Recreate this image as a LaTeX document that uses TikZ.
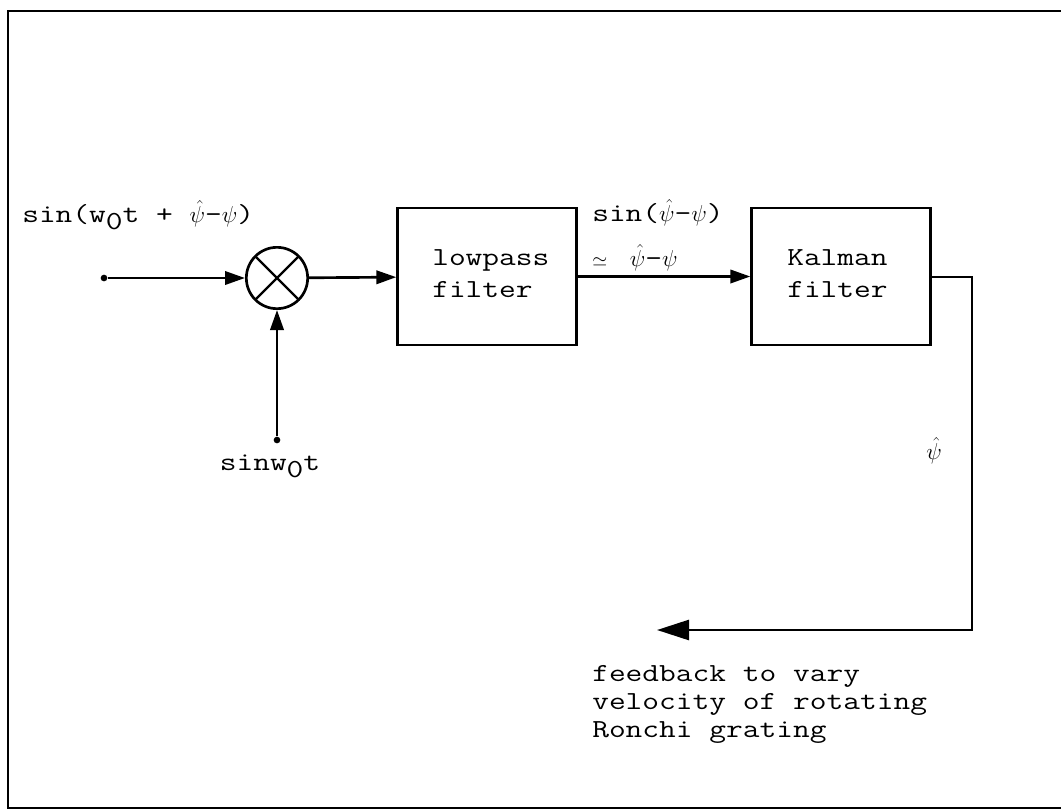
\documentclass[tikz,border=0pt]{standalone}
\usepackage{fontspec}
\newfontfamily\typew{Latin Modern Mono}[FakeStretch=1.25]
\newcommand{\mth}[1]{{\fontsize{16}{16}\selectfont$#1$}}
\usetikzlibrary{arrows.meta}
\begin{document}
\begin{tikzpicture}[x=0.75pt,y=-0.75pt,
  font=\typew\fontsize{19.5}{23.5}\selectfont,
  wire/.style={line width=2pt},
  frame/.style={line width=2.2pt},
  tip/.style={-{Triangle[length=15pt,width=10pt]}},
  bigtip/.style={-{Triangle[length=24pt,width=15pt]}},
  blockbox/.style={draw,line width=2pt,minimum width=134pt,minimum height=102.75pt,inner sep=0pt},
  mixer/.style={draw,circle,line width=2pt,minimum size=46pt,inner sep=0pt,
    path picture={\draw[line width=1.6pt] (path picture bounding box.north west) -- (path picture bounding box.south east)
      (path picture bounding box.north east) -- (path picture bounding box.south west);}},
  lbl/.style={inner sep=0pt,anchor=west},
  dot/.style={circle,fill,inner sep=0pt,minimum size=5pt}]
\useasboundingbox (0,0) rectangle (1061,811);
% frame (open at right)
\draw[frame] (1061,11) -- (8,11) -- (8,808) -- (1061,808);

\node[dot] (in) at (104,278) {};
\node[mixer] (mx) at (277,278) {};
\node[dot] (ref) at (277,440) {};
\node[blockbox] (lp) at (487,276.5) {};
\node[blockbox] (kf) at (841,276.5) {};
\coordinate (c1) at (972,277);
\coordinate (c2) at (972,630);
\coordinate (fb) at (657,630);

\draw[wire,tip] (in) -- (mx);
\draw[wire,tip] (ref) -- (mx);
\draw[wire,tip] (mx) -- (lp);
\draw[wire,tip] (lp) -- (kf);
\draw[wire,bigtip] (kf.east |- c1) -- (c1) -- (c2) -- (fb);

\node[lbl,align=left,font=\typew\fontsize{19.5}{24}\selectfont] (lpt) at (432,274) {lowpass\\filter};
\node[lbl,align=left,font=\typew\fontsize{19.5}{24}\selectfont] (kft) at (787,274) {Kalman\\filter};

\node[lbl] (inlbl) at (22,215) {sin(w\raisebox{-0.6ex}{0}t + \mth{\hat{\psi}}-\mth{\psi})};
\node[anchor=north] (reflbl) at (270,450) {sinw\raisebox{-0.6ex}{0}t};
\node[lbl] (e1) at (592,213) {sin(\mth{\hat{\psi}}-\mth{\psi})};
\node[lbl] (e2) at (592,258) {{\fontsize{14}{14}\selectfont$\simeq$}\hspace{17pt}\mth{\hat{\psi}}-\mth{\psi}};
\node (psih) at (934,451) {\mth{\hat{\psi}}};
\node[lbl,align=left,font=\typew\fontsize{19.5}{21}\selectfont] (fbt) at (592,704) {feedback to vary\\velocity of rotating\\Ronchi grating};
\end{tikzpicture}
\end{document}
